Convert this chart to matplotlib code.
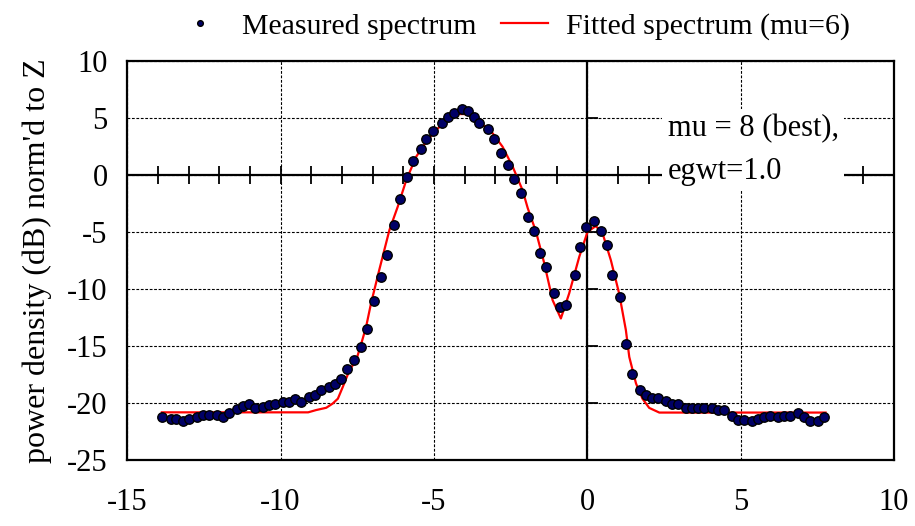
import numpy as np
import matplotlib.pyplot as plt

plt.rcParams['font.family'] = ['Liberation Serif', 'DejaVu Serif']
plt.rcParams['axes.unicode_minus'] = False

# measured spectrum
meas_x = [-13.87, -13.58, -13.40, -13.18, -12.99, -12.73, -12.53, -12.34, -12.08, -11.88,
          -11.68, -11.42, -11.23, -11.03, -10.84, -10.58, -10.38, -10.19, -9.92, -9.73,
          -9.53, -9.33, -9.08, -8.88, -8.69, -8.43, -8.23, -8.04, -7.84, -7.59,
          -7.38, -7.19, -6.94, -6.74, -6.54, -6.29, -6.09, -5.88, -5.69, -5.43,
          -5.25, -5.03, -4.74, -4.54, -4.33, -4.07, -3.89, -3.68, -3.52, -3.25,
          -3.03, -2.81, -2.58, -2.38, -2.17, -1.93, -1.73, -1.53, -1.33, -1.07,
          -0.88, -0.68, -0.40, -0.23, -0.03, 0.23, 0.44, 0.63, 0.81, 1.06,
          1.26, 1.46, 1.72, 1.91, 2.11, 2.30, 2.56, 2.76, 2.95, 3.21,
          3.41, 3.60, 3.80, 4.06, 4.26, 4.45, 4.71, 4.91, 5.10, 5.36,
          5.56, 5.76, 5.95, 6.21, 6.41, 6.60, 6.86, 7.06, 7.25, 7.51, 7.72]
meas_y = [-21.25, -21.4, -21.4, -21.6, -21.4, -21.2, -21.05, -21.05, -21.05, -21.2,
          -20.9, -20.55, -20.26, -20.09, -20.38, -20.32, -20.18, -20.03, -19.88, -19.88,
          -19.67, -19.88, -19.44, -19.3, -18.8, -18.6, -18.3, -17.9, -17.0, -16.17,
          -15.1, -13.5, -11.08, -8.97, -7.04, -4.39, -2.13, -0.2, 1.2, 2.25,
          3.13, 3.83, 4.53, 5.08, 5.41, 5.82, 5.61, 5.11, 4.53, 4.0,
          3.13, 1.9, 0.88, -0.38, -1.6, -3.68, -4.91, -6.87, -8.07, -10.38,
          -11.58, -11.4, -8.8, -6.3, -4.56, -4.03, -4.94, -6.15, -8.77, -10.7,
          -14.77, -17.4, -18.8, -19.3, -19.5, -19.5, -19.82, -20.03, -20.03, -20.38,
          -20.38, -20.38, -20.38, -20.38, -20.56, -20.56, -21.1, -21.5, -21.5, -21.6,
          -21.4, -21.25, -21.1, -21.25, -21.1, -21.1, -20.9, -21.25, -21.6, -21.6, -21.25]

# fitted spectrum
fit_x = [-13.87, -9.1, -8.84, -8.51, -8.30, -8.13, -7.97, -7.75, -7.53, -7.37,
         -7.21, -7.05, -6.78, -6.45, -6.18, -5.90, -5.58, -5.25, -4.93, -4.50,
         -4.2, -3.78, -3.52, -3.08, -2.76, -2.43, -2.11, -1.94, -1.67, -1.40,
         -1.13, -0.86, -0.59, -0.26, 0.01, 0.28, 0.50, 0.77, 1.04, 1.26,
         1.37, 1.59, 1.80, 2.02, 2.35, 7.77]
fit_y = [-20.8, -20.8, -20.6, -20.4, -20.03, -19.6, -18.57, -17.1, -16.2, -14.8,
         -13.3, -11.25, -8.3, -4.82, -2.78, -0.44, 1.6, 2.92, 3.95, 4.97,
         5.35, 5.35, 4.68, 3.65, 2.48, 0.73, -1.32, -2.9, -4.97, -7.75,
         -10.96, -12.57, -10.38, -7.16, -4.97, -4.47, -5.11, -7.46, -10.38, -13.6,
         -15.94, -18.27, -19.6, -20.41, -20.82, -20.82]

x_ticks = np.arange(-15, 11, 5)
y_ticks = np.arange(-25, 11, 5)

fig = plt.figure(figsize=(9.15, 5.26), dpi=100)
ax = fig.add_axes([0.139, 0.125, 0.838, 0.759])

ax.set_xlim(-15, 10)
ax.set_ylim(-25, 10)
ax.set_xticks(x_ticks)
ax.set_yticks(y_ticks)
ax.tick_params(length=0, labelsize=22)
ax.tick_params(axis='x', pad=20)
ax.tick_params(axis='y', pad=14)
ax.grid(True, color='black', linestyle=(0, (2.5, 1.5)), linewidth=0.8)
ax.set_axisbelow(True)
for s in ax.spines.values():
    s.set_linewidth(1.6)

# axis lines through zero with their tick marks
ax.axhline(0, color='black', lw=1.6, zorder=2)
ax.axvline(0, color='black', lw=1.6, zorder=2)
minor = np.arange(-14, 10, 1)
ax.plot(minor, np.zeros_like(minor), ls='none', marker='|', ms=13, mew=1.3,
        color='black', zorder=2)
ax.plot(np.zeros_like(y_ticks), y_ticks, ls='none', marker=1, ms=8, mew=1.3,
        color='black', zorder=2)

ax.plot(fit_x, fit_y, color='#ff0000', lw=1.6, zorder=3,
        label='Fitted spectrum (mu=6)')
ax.plot(meas_x, meas_y, ls='none', marker='o', ms=6.8, mfc='#000066',
        mec='black', mew=1.0, zorder=4, label='Measured spectrum')

ax.text(2.62, 2.2, 'mu = 8 (best),\negwt=1.0', fontsize=22, va='center',
        ha='left', linespacing=1.6, zorder=5,
        bbox=dict(fc='white', ec='none', pad=4))

ax.set_ylabel("power density (dB) norm'd to Z", fontsize=23, labelpad=11)

h, l = ax.get_legend_handles_labels()
fig.legend(h[::-1], l[::-1], loc='center', bbox_to_anchor=(0.561, 0.95), ncol=2,
           frameon=False, fontsize=21.5, handlelength=1.6, columnspacing=0.8,
           handletextpad=0.6, markerscale=0.6)

fig.savefig('out.png', dpi=100)
